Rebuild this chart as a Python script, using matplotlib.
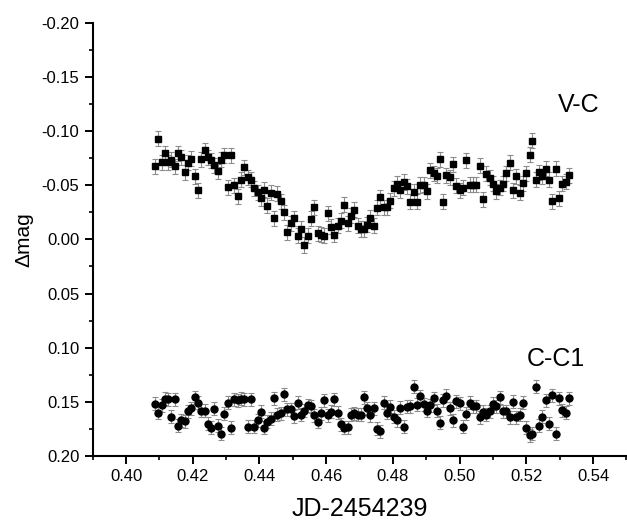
"""
Light curves V-C and C-C1 (differential magnitudes vs JD-2454239)
"""

import numpy as np
import matplotlib
matplotlib.use("Agg")
import matplotlib.pyplot as plt
from matplotlib.ticker import MultipleLocator, FormatStrFormatter

plt.rcParams['font.family'] = ['Liberation Sans', 'DejaVu Sans']
plt.rcParams['axes.unicode_minus'] = False

# time of each frame (same frames for both curves)
jd = [0.4087, 0.4097, 0.4107, 0.4117, 0.4127, 0.4135, 0.4146, 0.4156, 0.4166, 0.4176,
      0.4186, 0.4196, 0.4206, 0.4216, 0.4226, 0.4236, 0.4245, 0.4255, 0.4265, 0.4275,
      0.4285, 0.4295, 0.4305, 0.4315, 0.4325, 0.4335, 0.4345, 0.4355, 0.4365, 0.4375,
      0.4385, 0.4395, 0.4405, 0.4414, 0.4424, 0.4434, 0.4444, 0.4454, 0.4464, 0.4474,
      0.4484, 0.4494, 0.4504, 0.4514, 0.4524, 0.4534, 0.4544, 0.4554, 0.4564, 0.4574,
      0.4584, 0.4594, 0.4604, 0.4614, 0.4624, 0.4634, 0.4644, 0.4654, 0.4664, 0.4674,
      0.4684, 0.4694, 0.4704, 0.4712, 0.4722, 0.4732, 0.4742, 0.4752, 0.4762, 0.4772,
      0.4782, 0.4792, 0.4802, 0.4812, 0.4822, 0.4832, 0.4842, 0.4852, 0.4862, 0.4872,
      0.4882, 0.4892, 0.4902, 0.4912, 0.4922, 0.4932, 0.4941, 0.4950, 0.4960, 0.4970,
      0.4980, 0.4990, 0.5000, 0.5010, 0.5020, 0.5030, 0.5040, 0.5050, 0.5060, 0.5070,
      0.5080, 0.5090, 0.5100, 0.5110, 0.5120, 0.5130, 0.5140, 0.5150, 0.5160, 0.5170,
      0.5180, 0.5190, 0.5200, 0.5210, 0.5218, 0.5228, 0.5238, 0.5248, 0.5258, 0.5268,
      0.5278, 0.5288, 0.5298, 0.5308, 0.5318, 0.5328]

# V-C differential magnitude
vc = [-0.0673, -0.0930, -0.0713, -0.0796, -0.0713, -0.0735, -0.0673, -0.0796, -0.0759, -0.0620,
      -0.0707, -0.0744, -0.0581, -0.0451, -0.0738, -0.0821, -0.0759, -0.0729, -0.0682, -0.0630,
      -0.0735, -0.0775, -0.0481, -0.0775, -0.0500, -0.0398, -0.0550, -0.0667, -0.0574, -0.0550,
      -0.0472, -0.0435, -0.0380, -0.0460, -0.0312, -0.0430, -0.0194, -0.0420, -0.0352, -0.0250,
      -0.0065, -0.0148, -0.0194, -0.0034, -0.0096, 0.0052, -0.0034, -0.0189, -0.0296, -0.0056,
      -0.0044, -0.0034, -0.0241, -0.0118, -0.0044, -0.0127, -0.0173, -0.0319, -0.0148, -0.0219,
      -0.0272, -0.0127, -0.0096, -0.0096, -0.0136, -0.0198, -0.0127, -0.0291, -0.0389, -0.0296,
      -0.0296, -0.0358, -0.0472, -0.0513, -0.0451, -0.0530, -0.0488, -0.0349, -0.0439, -0.0349,
      -0.0502, -0.0506, -0.0442, -0.0636, -0.0611, -0.0587, -0.0738, -0.0349, -0.0590, -0.0574,
      -0.0692, -0.0497, -0.0451, -0.0476, -0.0729, -0.0506, -0.0504, -0.0504, -0.0680, -0.0368,
      -0.0606, -0.0569, -0.0513, -0.0442, -0.0476, -0.0513, -0.0611, -0.0707, -0.0451, -0.0581,
      -0.0430, -0.0519, -0.0611, -0.0781, -0.0911, -0.0550, -0.0620, -0.0581, -0.0652, -0.0550,
      -0.0352, -0.0652, -0.0380, -0.0513, -0.0534, -0.0590]

# C-C1 differential magnitude
cc1 = [0.1519, 0.1602, 0.1531, 0.1472, 0.1478, 0.1639, 0.1478, 0.1719, 0.1672, 0.1679,
       0.1586, 0.1561, 0.1456, 0.1509, 0.1580, 0.1580, 0.1704, 0.1741, 0.1565, 0.1719,
       0.1796, 0.1611, 0.1509, 0.1741, 0.1478, 0.1484, 0.1472, 0.1478, 0.1731, 0.1478,
       0.1731, 0.1669, 0.1593, 0.1741, 0.1685, 0.1657, 0.1469, 0.1617, 0.1607, 0.1431,
       0.1570, 0.1570, 0.1632, 0.1509, 0.1617, 0.1580, 0.1531, 0.1540, 0.1623, 0.1685,
       0.1607, 0.1487, 0.1626, 0.1593, 0.1478, 0.1602, 0.1709, 0.1741, 0.1734, 0.1617,
       0.1607, 0.1617, 0.1617, 0.1456, 0.1561, 0.1626, 0.1561, 0.1750, 0.1771, 0.1509,
       0.1602, 0.1546, 0.1639, 0.1669, 0.1556, 0.1731, 0.1547, 0.1540, 0.1361, 0.1526,
       0.1447, 0.1524, 0.1580, 0.1533, 0.1469, 0.1580, 0.1694, 0.1484, 0.1444, 0.1561,
       0.1672, 0.1494, 0.1515, 0.1731, 0.1611, 0.1509, 0.1540, 0.1540, 0.1642, 0.1593,
       0.1617, 0.1586, 0.1519, 0.1540, 0.1456, 0.1586, 0.1586, 0.1642, 0.1500, 0.1642,
       0.1617, 0.1509, 0.1741, 0.1808, 0.1793, 0.1361, 0.1719, 0.1639, 0.1487, 0.1704,
       0.1438, 0.1796, 0.1469, 0.1577, 0.1602, 0.1469]

vc_err = 0.0070
cc1_err = 0.0060

fig = plt.figure(figsize=(6.27, 5.23), dpi=100)
ax = fig.add_axes([0.1478, 0.1281, 0.8513, 0.8285])

ebar = dict(ecolor='#8c8c8c', elinewidth=0.8, capsize=2.2, capthick=0.8,
            linestyle='none', color='black', markeredgecolor='black')
ax.errorbar(jd, vc, yerr=vc_err, fmt='s', markersize=4.6, **ebar)
ax.errorbar(jd, cc1, yerr=cc1_err, fmt='o', markersize=5.0, **ebar)

ax.text(0.5356, -0.1238, 'V-C', fontsize=18, ha='center', va='center')
ax.text(0.5287, 0.1105, 'C-C1', fontsize=18, ha='center', va='center')

ax.set_xlim(0.39, 0.55)
ax.set_ylim(0.20, -0.20)

ax.xaxis.set_major_locator(MultipleLocator(0.02))
ax.xaxis.set_minor_locator(MultipleLocator(0.01))
ax.yaxis.set_major_locator(MultipleLocator(0.05))
ax.yaxis.set_minor_locator(MultipleLocator(0.025))
ax.xaxis.set_major_formatter(FormatStrFormatter('%.2f'))
ax.yaxis.set_major_formatter(FormatStrFormatter('%.2f'))

for s in ('top', 'right'):
    ax.spines[s].set_visible(False)
for s in ('left', 'bottom'):
    ax.spines[s].set_linewidth(1.5)

ax.tick_params(which='major', direction='out', length=5.5, width=1.4,
               labelsize=12, colors='black', pad=4)
ax.tick_params(which='minor', direction='out', length=2.8, width=1.2)

ax.set_xlabel('JD-2454239', fontsize=18, labelpad=9)
ax.set_ylabel('Δmag', fontsize=15, labelpad=6)

fig.savefig('out.png', dpi=100)
